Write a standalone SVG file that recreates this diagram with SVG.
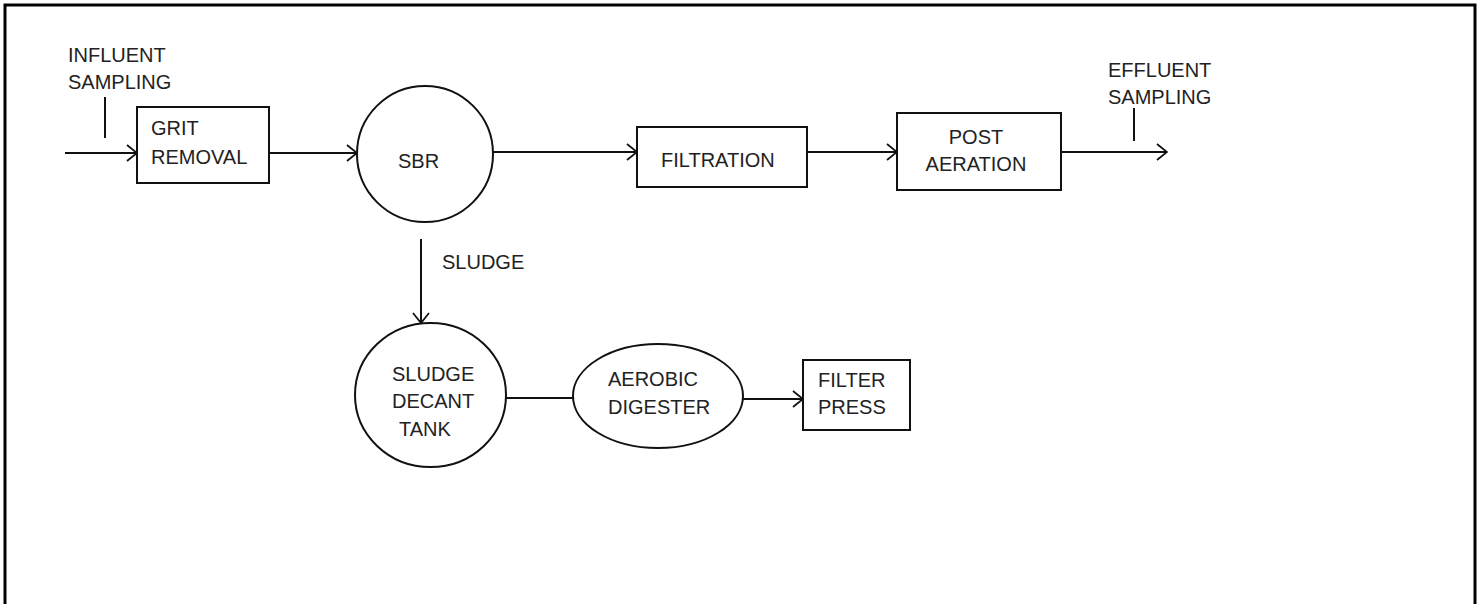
<svg xmlns="http://www.w3.org/2000/svg" width="1482" height="604" viewBox="0 0 1482 604">
<style>
.t{font-family:"Liberation Sans",Arial,sans-serif;font-size:20px;fill:#222}
.s{fill:#fff;stroke:#111;stroke-width:2}
.c{fill:none;stroke:#111;stroke-width:2}
</style>
<defs>
<marker id="arr" viewBox="0 0 12 18" markerWidth="12" markerHeight="18" refX="11" refY="9" orient="auto" markerUnits="userSpaceOnUse">
<path d="M1,1 L11,9 L1,17" fill="none" stroke="#111" stroke-width="1.8"/>
</marker>
</defs>
<rect width="1482" height="604" fill="#fff"/>
<path d="M5,610 V5 H1475 V610" fill="none" stroke="#000" stroke-width="3"/>
<g id="connectors">
<path class="c" d="M65,153 H137" marker-end="url(#arr)"/>
<path class="c" d="M269,153 H357" marker-end="url(#arr)"/>
<path class="c" d="M493,152 H637" marker-end="url(#arr)"/>
<path class="c" d="M807,152 H897" marker-end="url(#arr)"/>
<path class="c" d="M1061,152 H1167" marker-end="url(#arr)"/>
<path class="c" d="M421,239 V323" marker-end="url(#arr)"/>
<path class="c" d="M506,398 H573"/>
<path class="c" d="M743,399 H803" marker-end="url(#arr)"/>
<path class="c" d="M105,97 V138"/>
<path class="c" d="M1134,108 V141"/>
</g>
<g id="influent-label">
<text class="t" x="68" y="62">INFLUENT</text>
<text class="t" x="68" y="89">SAMPLING</text>
</g>
<g id="effluent-label">
<text class="t" x="1108" y="77">EFFLUENT</text>
<text class="t" x="1108" y="104">SAMPLING</text>
</g>
<g id="grit-removal">
<rect class="s" x="137" y="107" width="132" height="76"/>
<text class="t" x="151" y="135">GRIT</text>
<text class="t" x="151" y="164">REMOVAL</text>
</g>
<g id="sbr">
<circle class="s" cx="425" cy="154" r="68"/>
<text class="t" x="398" y="168">SBR</text>
</g>
<g id="filtration">
<rect class="s" x="637" y="127" width="170" height="60"/>
<text class="t" x="661" y="167">FILTRATION</text>
</g>
<g id="post-aeration">
<rect class="s" x="897" y="113" width="164" height="77"/>
<text class="t" x="976" y="144" text-anchor="middle">POST</text>
<text class="t" x="976" y="171" text-anchor="middle">AERATION</text>
</g>
<g id="sludge-label">
<text class="t" x="442" y="269">SLUDGE</text>
</g>
<g id="sludge-decant-tank">
<ellipse class="s" cx="430.5" cy="395" rx="75.5" ry="72"/>
<text class="t" x="392" y="381">SLUDGE</text>
<text class="t" x="392" y="408">DECANT</text>
<text class="t" x="399" y="436">TANK</text>
</g>
<g id="aerobic-digester">
<ellipse class="s" cx="658" cy="396" rx="85" ry="52"/>
<text class="t" x="608" y="386">AEROBIC</text>
<text class="t" x="608" y="414">DIGESTER</text>
</g>
<g id="filter-press">
<rect class="s" x="803" y="360" width="107" height="70"/>
<text class="t" x="818" y="387">FILTER</text>
<text class="t" x="818" y="414">PRESS</text>
</g>
</svg>
